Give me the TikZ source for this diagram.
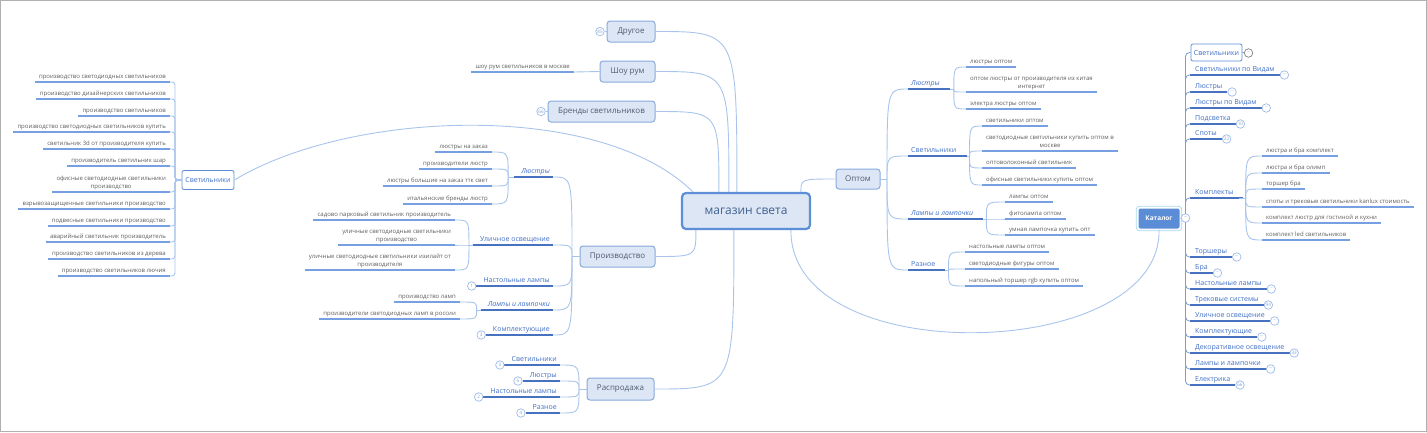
\documentclass[tikz,border=0pt]{standalone}
\usepackage{fontspec}
\setmainfont{Open Sans}
\usetikzlibrary{calc}
\definecolor{framec}{HTML}{B0B0B0}
\definecolor{connc}{HTML}{A8C4EC}
\definecolor{leaftext}{HTML}{5E5E5E}
\definecolor{leafline}{HTML}{76A0E2}
\definecolor{subtext}{HTML}{3F6FC6}
\definecolor{subline}{HTML}{4672BF}
\definecolor{boxfill}{HTML}{DCE6F4}
\definecolor{boxdraw}{HTML}{88AADD}
\definecolor{boxtext}{HTML}{4E5B70}
\definecolor{ctrdraw}{HTML}{5D8ED8}
\definecolor{ctrtext}{HTML}{40618F}
\definecolor{cntdraw}{HTML}{9DBBE8}
\definecolor{cnttext}{HTML}{7F9ED4}
\definecolor{catfill}{HTML}{5A8DD6}
\definecolor{catglow}{HTML}{A6DAF0}
\definecolor{vlinec}{HTML}{7F9DCB}
\tikzset{
  conn/.style={draw=connc, line width=0.9pt},
  leaf/.style={font=\fontsize{6}{8}\selectfont, text=leaftext, inner xsep=4pt, inner ysep=2pt, text depth=1.6pt, align=center},
  lline/.style={draw=leafline, line width=1.6pt},
  sub/.style={font=\fontsize{7}{8}\selectfont, text=subtext, inner xsep=3pt, inner ysep=2pt, text depth=1.6pt},
  sline/.style={draw=subline, line width=1.8pt},
  mainbox/.style={draw=boxdraw, fill=boxfill, line width=1pt, rounded corners=3pt, minimum height=21pt, inner xsep=3pt, inner ysep=0pt, text=boxtext, font=\fontsize{8}{9}\selectfont},
  ctrbox/.style={draw=ctrdraw, fill=boxfill, line width=2.2pt, rounded corners=4pt, minimum width=128pt, minimum height=36pt, text=ctrtext, font=\fontsize{12}{13}\selectfont},
  whitebox/.style={draw=ctrdraw, fill=white, line width=0.8pt, rounded corners=2pt, minimum height=19pt, inner xsep=3pt, text=subtext, font=\fontsize{7}{8}\selectfont},
  cnt/.style={circle, draw=cntdraw, fill=white, line width=0.7pt, minimum size=8.5pt, inner sep=0pt, text=cnttext, font=\fontsize{4.6}{5}\selectfont},
  catnode/.style={fill=catfill, draw=white, line width=1pt, rounded corners=2pt, minimum width=42pt, minimum height=21pt, text=white, font=\fontsize{6.5}{7}\selectfont\bfseries},
  catsub/.style={font=\fontsize{7}{8}\selectfont, text=subtext, inner xsep=5pt, inner ysep=2pt, text depth=1.6pt},
  cline/.style={draw=subline, line width=1.5pt},
  vl/.style={draw=vlinec, line width=0.8pt}
}
\newcommand\mmLE[3]{\node[leaf,anchor=south east] (#1) at (#2) {#3};\draw[lline] (#1.south west) -- (#1.south east);}
\newcommand\mmLW[3]{\node[leaf,anchor=south west] (#1) at (#2) {#3};\draw[lline] (#1.south west) -- (#1.south east);}
\newcommand\mmSE[3]{\node[sub,anchor=south east] (#1) at (#2) {#3};\coordinate (#1-s) at ($(#1.south west)+(-4,0)$);\draw[sline] (#1-s) -- (#1.south east);}
\newcommand\mmSW[3]{\node[sub,anchor=south west] (#1) at (#2) {#3};\coordinate (#1-e) at ($(#1.south east)+(7,0)$);\draw[sline] (#1.south west) -- (#1-e);}
\newcommand\mmFan[2]{\draw[conn] (#1) .. controls (#1 |- #2) .. (#2);}
\newcommand\mmCI[4]{\node[catsub, anchor=south west] (#1) at (1190,#2) {#3};\draw[cline] (#1.south west) -- (#1.south east);\draw[vl, rounded corners=4pt] (catc) |- (#1.south west);\node[cnt, anchor=west] (#1c) at (#1.south east) {#4};}
\newcommand\mmDots{\raisebox{0.6pt}{.\kern-0.2pt.\kern-0.2pt.}}
\begin{document}
\begin{tikzpicture}[x=1pt,y=-1pt]
\useasboundingbox (0,0) rectangle (1427,432);
\draw[draw=framec, line width=0.8pt] (0.5,0.5) rectangle (1426.5,431.5);

% centre
\node[ctrbox] (c) at (746,211) {магазин света};
\coordinate (cT1) at ($(c.north west)+(56,0)$);
\coordinate (cT2) at ($(c.north west)+(48,0)$);
\coordinate (cT3) at ($(c.north west)+(38,0)$);
\coordinate (cL) at ($(c.north west)+(12,0)$);
\coordinate (cB1) at ($(c.south west)+(15,0)$);
\coordinate (cB2) at ($(c.south west)+(53,0)$);
\coordinate (cB3) at ($(c.south west)+(110,0)$);
\coordinate (cR) at ($(c.north west)+(120,0)$);

% top topics
\node[mainbox, minimum width=48pt] (dr) at (631,31.5) {Другое};
\node[cnt] (drc) at (600,31.5) {85};
\draw[conn] (drc) -- (dr);
\node[mainbox, minimum width=55pt] (sh) at (627.5,71.5) {Шоу рум};
\mmLE{shl}{574,72}{шоу рум светильников в москве}
\draw[conn] (shl.south east) -- (sh.west);
\node[mainbox, minimum width=107pt] (br) at (601.5,111.5) {Бренды светильников};
\node[cnt] (brc) at (541,111.5) {66};
\draw[conn] (brc) -- (br);
\draw[conn] (dr.east) .. controls (cT1 |- dr.east) .. (cT1);
\draw[conn] (sh.east) .. controls (cT2 |- sh.east) .. (cT2);
\draw[conn] (br.east) .. controls (cT3 |- br.east) .. (cT3);

% left Светильники
\node[whitebox, minimum width=52pt] (sv) at (208,180) {Светильники};
\coordinate (svJ) at (175,180);
\mmLE{s1}{170,82}{производство светодиодных светильников}
\mmLE{s2}{170,99}{производство дизайнерских светильников}
\mmLE{s3}{170,116}{производство светильников}
\mmLE{s4}{170,132}{производство светодиодных светильников купить}
\mmLE{s5}{170,149}{светильник 3d от производителя купить}
\mmLE{s6}{170,166}{производитель светильник шар}
\mmLE{s7}{170,192}{офисные светодиодные светильники\\производство}
\mmLE{s8}{170,209}{взрывозащищенные светильники производство}
\mmLE{s9}{170,226}{подвесные светильники производство}
\mmLE{s10}{170,242}{аварийный светильник производитель}
\mmLE{s11}{170,259}{производство светильников из дерева}
\mmLE{s12}{170,276}{производство светильников лючия}
\foreach \n in {s1,s2,s3,s4,s5,s6,s7,s8,s9,s10,s11,s12}
  {\draw[conn, rounded corners=3pt] (sv.west) -- (svJ) |- (\n.south east);}
\draw[conn] (sv.east) .. controls (350,110) and (600,100) .. (cL);

% Производство
\node[mainbox, minimum width=75pt] (pr) at (617.5,256.5) {Производство};
\draw[conn] (pr.east) .. controls (cB1 |- pr.east) .. (cB1);
\coordinate (prJ) at (572,256.5);
\draw[conn] (pr.west) -- (prJ);
\mmSE{plu}{553,177}{\itshape Люстры}
\mmSE{pul}{553,245}{Уличное освещение}
\mmSE{pnl}{553,286}{Настольные лампы}
\mmSE{pll}{553,310}{\itshape Лампы и лампочки}
\mmSE{pko}{553,335}{Комплектующие}
\foreach \n in {plu,pul,pnl,pll,pko}{\mmFan{prJ}{\n.south east}}
\node[cnt, anchor=east] (pnlc) at (pnl-s) {1};
\node[cnt, anchor=east] (pkoc) at (pko-s) {3};

\coordinate (pluJ) at ($(plu-s)+(-6,0)$);
\draw[conn] (plu-s) -- (pluJ);
\mmLE{pl1}{492,152}{люстры на заказ}
\mmLE{pl2}{492,169}{производители люстр}
\mmLE{pl3}{492,186}{люстры большие на заказ ттк свет}
\mmLE{pl4}{492,204}{итальянские бренды люстр}
\foreach \n in {pl1,pl2,pl3,pl4}{\mmFan{pluJ}{\n.south east}}

\coordinate (pulJ) at ($(pul-s)+(-4,0)$);
\draw[conn] (pul-s) -- (pulJ);
\mmLE{pu1}{455,220}{садово парковый светильник производитель}
\mmLE{pu2}{455,245}{уличные светодиодные светильники\\производство}
\mmLE{pu3}{455,270}{уличные светодиодные светильники изилайт от\\производителя}
\foreach \n in {pu1,pu2,pu3}{\mmFan{pulJ}{\n.south east}}

\coordinate (pllJ) at ($(pll-s)+(-4,0)$);
\draw[conn] (pll-s) -- (pllJ);
\mmLE{pa1}{460,302}{производство ламп}
\mmLE{pa2}{460,319}{производители светодиодных ламп в россии}
\foreach \n in {pa1,pa2}{\mmFan{pllJ}{\n.south east}}

% Распродажа
\node[mainbox, minimum width=67pt, minimum height=22pt] (ra) at (620.5,389) {Распродажа};
\draw[conn] (ra.east) .. controls (cB2 |- ra.east) .. (cB2);
\coordinate (raJ) at (579,389);
\draw[conn] (ra.west) -- (raJ);
\mmSE{rs}{560,365}{Светильники}
\mmSE{rl}{560,381}{Люстры}
\mmSE{rn}{560,397}{Настольные лампы}
\mmSE{rr}{560,413}{Разное}
\foreach \n in {rs,rl,rn,rr}{\mmFan{raJ}{\n.south east}}
\node[cnt, anchor=east] (rsc) at (rs-s) {3};
\node[cnt, anchor=east] (rlc) at (rl-s) {6};
\node[cnt, anchor=east] (rnc) at (rn-s) {2};
\node[cnt, anchor=east] (rrc) at (rr-s) {4};

% Оптом
\node[mainbox, minimum width=44pt, minimum height=20pt] (op) at (858,179) {Оптом};
\draw[conn] (cR) .. controls (cR |- op.west) .. (op.west);
\coordinate (opJ) at (887,179);
\draw[conn] (op.east) -- (opJ);
\mmSW{ol}{908,89}{\itshape Люстры}
\mmSW{os}{908,156}{Светильники}
\mmSW{oll}{908,219}{\itshape Лампы и лампочки}
\mmSW{orr}{908,270}{Разное}
\foreach \n in {ol,os,oll,orr}{\mmFan{opJ}{\n.south west}}

\coordinate (olJ) at ($(ol-e)+(4,0)$);
\draw[conn] (ol-e) -- (olJ);
\mmLW{ol1}{966,67}{люстры оптом}
\mmLW{ol2}{966,92}{оптом люстры от производителя из китая\\интернет}
\mmLW{ol3}{966,109}{электра люстры оптом}
\foreach \n in {ol1,ol2,ol3}{\mmFan{olJ}{\n.south west}}

\coordinate (osJ) at ($(os-e)+(3,0)$);
\draw[conn] (os-e) -- (osJ);
\mmLW{os1}{982,126}{светильники оптом}
\mmLW{os2}{982,151}{светодиодные светильники купить оптом в\\москве}
\mmLW{os3}{982,168}{оптоволоконный светильник}
\mmLW{os4}{982,185}{офисные светильники купить оптом}
\foreach \n in {os1,os2,os3,os4}{\mmFan{osJ}{\n.south west}}

\coordinate (ollJ) at ($(oll-e)+(3,0)$);
\draw[conn] (oll-e) -- (ollJ);
\mmLW{oa1}{1005,202}{лампы оптом}
\mmLW{oa2}{1005,219}{фитолампа оптом}
\mmLW{oa3}{1005,235}{умная лампочка купить опт}
\foreach \n in {oa1,oa2,oa3}{\mmFan{ollJ}{\n.south west}}

\coordinate (orJ) at ($(orr-e)+(3,0)$);
\draw[conn] (orr-e) -- (orJ);
\mmLW{or1}{965,252}{настольные лампы оптом}
\mmLW{or2}{965,269}{светодиодные фигуры оптом}
\mmLW{or3}{965,286}{напольный торшер rgb купить оптом}
\foreach \n in {or1,or2,or3}{\mmFan{orJ}{\n.south west}}

% Каталог
\node[catnode] (cat) at (1159,218.5) {Каталог};
\draw[catglow, line width=0.8pt, rounded corners=3pt] ($(cat.south west)+(-1.2,1.2)$) rectangle ($(cat.north east)+(1.2,-1.2)$);
\draw[conn] (cB3) .. controls (790,372) and (1163,362) .. (cat.south);
\node[cnt] (catc) at (1185.5,218) {–};
\draw[conn] (cat.east) -- (catc);
\node[whitebox, minimum width=49pt, minimum height=17pt] (cs) at (1216.5,52.5) {Светильники};
\draw[vl, rounded corners=4pt] (catc) |- (cs.west);
\node[cnt, draw=gray, text=gray] (csc) at (1248.5,53) {\mmDots};
\draw[vl] (cs.east) -- (csc);
\mmCI{k1}{75}{Светильники по Видам}{\mmDots}
\mmCI{k2}{92}{Люстры}{\mmDots}
\mmCI{k3}{108}{Люстры по Видам}{\mmDots}
\mmCI{k4}{124}{Подсветка}{10}
\mmCI{k5}{139}{Споты}{22}
\node[catsub, anchor=south west] (kk) at (1190,198) {Комплекты};
\draw[cline] (kk.south west) -- ($(kk.south east)+(4,0)$);
\draw[vl, rounded corners=4pt] (catc) |- (kk.south west);
\coordinate (kkJ) at ($(kk.south east)+(7,0)$);
\draw[conn] (kk.south east) -- (kkJ);
\mmLW{kl1}{1262,156}{люстра и бра комплект}
\mmLW{kl2}{1262,173}{люстра и бра олимп}
\mmLW{kl3}{1262,189}{торшер бра}
\mmLW{kl4}{1262,207}{споты и трековые светильники kanlux стоимость}
\mmLW{kl5}{1262,223}{комплект люстр для гостиной и кухни}
\mmLW{kl6}{1262,240}{комплект led светильников}
\foreach \n in {kl1,kl2,kl3,kl4,kl5,kl6}{\mmFan{kkJ}{\n.south west}}
\mmCI{k6}{257}{Торшеры}{\mmDots}
\mmCI{k7}{273}{Бра}{\mmDots}
\mmCI{k8}{289}{Настольные лампы}{\mmDots}
\mmCI{k9}{305}{Трековые системы}{94}
\mmCI{k10}{321}{Уличное освещение}{\mmDots}
\mmCI{k11}{337}{Комплектующие}{\mmDots}
\mmCI{k12}{353}{Декоративное освещение}{33}
\mmCI{k13}{369}{Лампы и лампочки}{\mmDots}
\mmCI{k14}{385}{Електрика}{66}
\end{tikzpicture}
\end{document}
